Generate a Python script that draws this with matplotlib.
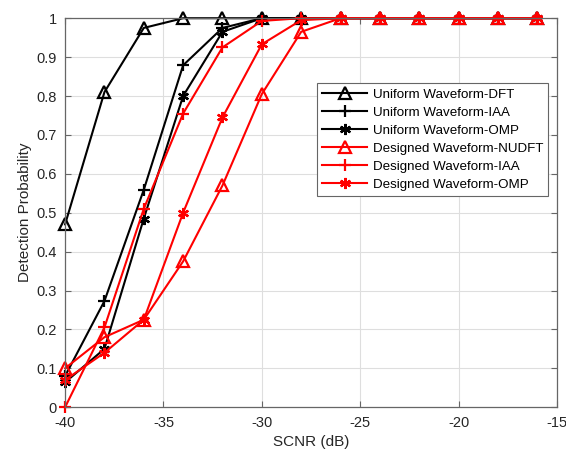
import numpy as np
import matplotlib.pyplot as plt

plt.rcParams['font.family'] = ['Liberation Sans', 'DejaVu Sans']
plt.rcParams['axes.unicode_minus'] = False

scnr = [-40, -38, -36, -34, -32, -30, -28, -26, -24, -22, -20, -18, -16]

uni_dft = [0.47, 0.81, 0.975, 1, 1, 1, 1, 1, 1, 1, 1, 1, 1]
uni_iaa = [0.08, 0.273, 0.559, 0.879, 0.975, 1, 1, 1, 1, 1, 1, 1, 1]
uni_omp = [0.064, 0.15, 0.485, 0.80, 0.965, 1, 1, 1, 1, 1, 1, 1, 1]
des_nudft = [0.10, 0.18, 0.225, 0.375, 0.57, 0.805, 0.965, 1, 1, 1, 1, 1, 1]
des_iaa = [0.0, 0.205, 0.51, 0.755, 0.925, 0.993, 1, 1, 1, 1, 1, 1, 1]
des_omp = [0.07, 0.14, 0.225, 0.50, 0.745, 0.933, 0.995, 1, 1, 1, 1, 1, 1]

asterisk = (6, 2, 0)
series = [
    ('Uniform Waveform-DFT', uni_dft, 'k', '^'),
    ('Uniform Waveform-IAA', uni_iaa, 'k', '+'),
    ('Uniform Waveform-OMP', uni_omp, 'k', asterisk),
    ('Designed Waveform-NUDFT', des_nudft, 'r', '^'),
    ('Designed Waveform-IAA', des_iaa, 'r', '+'),
    ('Designed Waveform-OMP', des_omp, 'r', asterisk),
]

fig = plt.figure(figsize=(5.66, 4.55), dpi=100)
ax = fig.add_axes([0.115, 0.105, 0.869, 0.855])

for name, vals, col, mk in series:
    ms = 9 if mk == '^' else 8
    ax.plot(scnr, vals, color=col, marker=mk, markersize=ms, linewidth=1.5,
            markerfacecolor='none', markeredgecolor=col, markeredgewidth=1.6,
            label=name, clip_on=False)

ax.set_xlim(-40, -15)
ax.set_ylim(0, 1)
ax.set_xticks(np.arange(-40, -14, 5))
ax.set_yticks(np.arange(0, 1.01, 0.1))
ax.set_yticklabels(['0', '0.1', '0.2', '0.3', '0.4', '0.5', '0.6', '0.7', '0.8', '0.9', '1'])
ax.grid(True, color='#dedede', linewidth=0.8)
ax.set_axisbelow(True)
ax.tick_params(direction='in', top=True, right=True, labelsize=10.5,
               labelcolor='#262626', color='#666666', length=4, pad=6)
for s in ax.spines.values():
    s.set_color('#666666')
    s.set_linewidth(0.9)
ax.set_xlabel('SCNR (dB)', fontsize=11, color='#262626', labelpad=4)
ax.set_ylabel('Detection Probability', fontsize=11, color='#262626', labelpad=3)

leg = ax.legend(loc='upper right', bbox_to_anchor=(0.982, 0.833), fontsize=9.6,
                fancybox=False, framealpha=1, edgecolor='#666666',
                borderpad=0.38, labelspacing=0.43, handlelength=3.4,
                handletextpad=0.38, borderaxespad=0)
leg.get_frame().set_linewidth(0.8)

fig.savefig('out.png', dpi=100)
